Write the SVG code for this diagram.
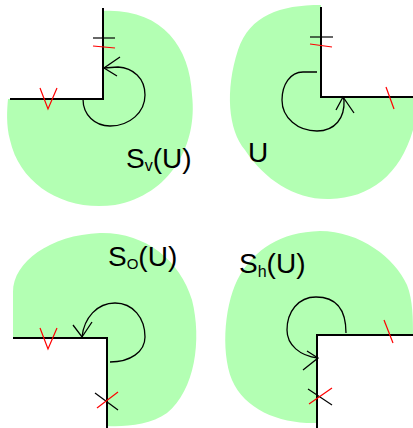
<svg xmlns="http://www.w3.org/2000/svg" width="413" height="428" viewBox="0 0 413 428">
<style>
.blob{fill:#b3ffb3;stroke:none}
.edge{fill:none;stroke:#000;stroke-width:2}
.loop{fill:none;stroke:#000;stroke-width:1.3}
.tk{fill:none;stroke:#000;stroke-width:1.2}
.rt{fill:none;stroke:#ff0000;stroke-width:1.2}
.lbl{font-family:"Liberation Sans",Arial,sans-serif;font-size:28px;fill:#000}
</style>
<rect width="413" height="428" fill="#fff"/>
<g id="Sv">
<path class="blob" d="M103,11 C160,8 190,45 192,95 C198,145 170,195 115,205 C65,212 20,185 10,140 C6,125 7,110 8,99 L103,99 Z"/>
<path class="edge" d="M103,8 L103,99 L10,99"/>
<path class="loop" d="M83,99 C83,115 95,126 110,126 C130,126 145,112 145,95 C145,78 133,68 118,67 L104,68"/>
<path class="loop" d="M120,57 L104,68 L117,76"/>
<path class="tk" d="M93,38 L115,38"/>
<path class="rt" d="M93,46 L115,48"/>
<path class="rt" d="M40,88 L48,109 L57,88"/>
<text class="lbl" x="126" y="168">S<tspan font-size="16" dy="3">v</tspan><tspan dy="-3">(U)</tspan></text>
</g>
<g id="U">
<path class="blob" d="M321,5 C280,5 250,15 238,50 C225,90 228,130 245,150 C265,180 295,200 330,199 C370,198 400,175 413,130 L413,96 L321,96 Z"/>
<path class="edge" d="M321,7 L321,97 L413,97"/>
<path class="loop" d="M317,72 L303,72 C290,72 282,85 282,100 C282,118 298,131 317,131 C335,131 345,118 344,100 L343,97"/>
<path class="loop" d="M336,110 L343,97 L354,113"/>
<path class="tk" d="M310,37 L333,37"/>
<path class="rt" d="M310,44 L332,47"/>
<path class="rt" d="M386,87 L394,109"/>
<text class="lbl" x="248" y="162">U</text>
</g>
<g id="So">
<path class="blob" d="M13,337 L13,292 C13,262 50,235 100,233 C145,232 180,260 192,300 C202,340 195,390 167,413 C150,425 125,427 107,426 L107,338 Z"/>
<path class="edge" d="M13,338 L107,338 L107,428"/>
<path class="loop" d="M110,362 C130,362 145,352 145,337 C145,318 133,303 115,303 C97,303 84,318 82,337"/>
<path class="loop" d="M73,325 L82,337 L92,322"/>
<path class="rt" d="M40,328 L48,349 L57,328"/>
<path class="tk" d="M95,393 L118,410"/>
<path class="rt" d="M97,408 L118,392"/>
<text class="lbl" x="108" y="266">S<tspan font-size="15" dy="3">O</tspan><tspan dy="-3">(U)</tspan></text>
</g>
<g id="Sh">
<path class="blob" d="M317,423 C280,424 245,410 232,380 C220,350 225,300 240,275 C255,250 280,232 320,231 C360,231 395,258 407,285 C413,300 413,320 413,335 L317,335 Z"/>
<path class="edge" d="M317,428 L317,335 L413,335"/>
<path class="loop" d="M346,333 C346,315 340,297 316,297 C298,297 287,312 287,330 C287,345 300,356 318,358"/>
<path class="loop" d="M307,351 L318,358 L303,370"/>
<path class="rt" d="M384,320 L393,343"/>
<path class="tk" d="M308,389 L332,405"/>
<path class="rt" d="M309,404 L332,388"/>
<text class="lbl" x="239" y="273">S<tspan font-size="16" dy="4">h</tspan><tspan dy="-4">(U)</tspan></text>
</g>
<g id="connectors"/>
</svg>
